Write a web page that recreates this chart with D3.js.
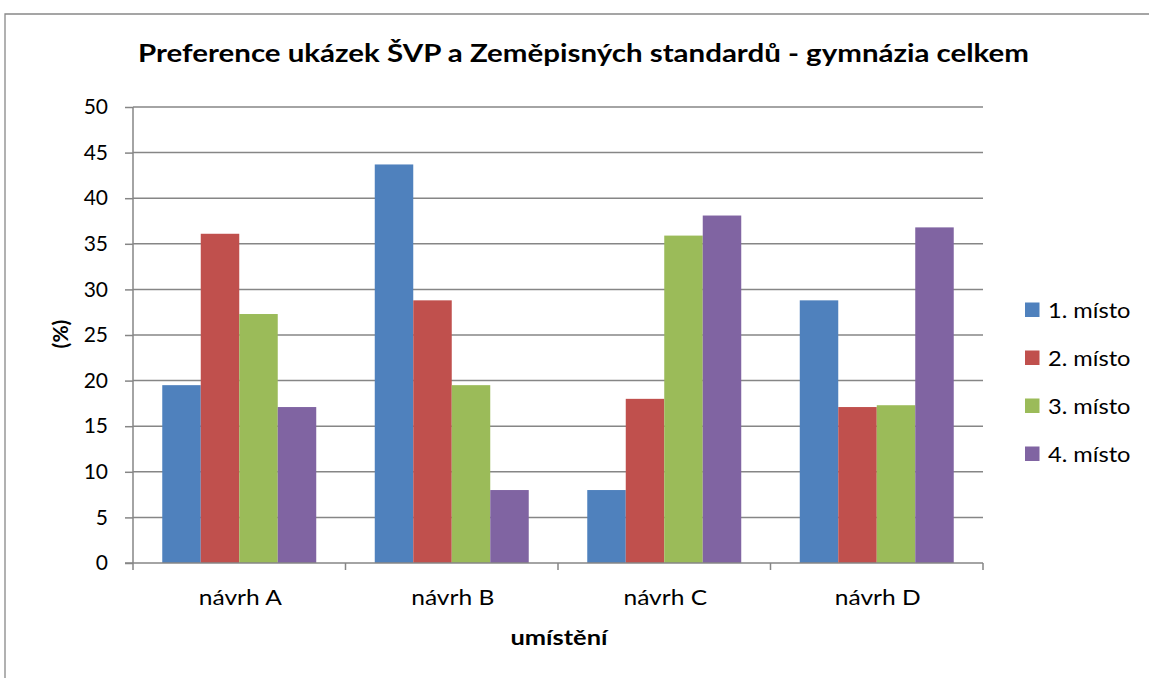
<!DOCTYPE html>
<html><head><meta charset="utf-8">
<script src="https://cdn.jsdelivr.net/npm/d3@7"></script>
<style>body{margin:0;background:#fff;} svg{display:block;}</style>
</head><body>
<script>
const categories = ["návrh A", "návrh B", "návrh C", "návrh D"];
const seriesNames = ["1. místo", "2. místo", "3. místo", "4. místo"];
const colors = ["#4F81BD", "#C0504D", "#9BBB59", "#8064A2"];
const misto1 = [19.5, 43.7, 8.0, 28.8];
const misto2 = [36.1, 28.8, 18.0, 17.1];
const misto3 = [27.3, 19.5, 35.9, 17.3];
const misto4 = [17.1, 8.0, 38.1, 36.8];
const yTicks = [0, 5, 10, 15, 20, 25, 30, 35, 40, 45, 50];
const title = "Preference ukázek ŠVP a Zeměpisných standardů - gymnázia celkem";
const xTitle = "umístění";
const yTitle = "(%)";

(function () {
const series = [misto1, misto2, misto3, misto4];
const W = 1149, H = 678;
const font = "Lato, 'Open Sans', sans-serif";
const svg = d3.select("body").append("svg").attr("width", W).attr("height", H);

// horizontally stretch a group of texts so that refIndex text gets target width
function stretch(sel, target, refIndex) {
  const nodes = sel.nodes();
  const k = target / nodes[refIndex || 0].getComputedTextLength();
  nodes.forEach(n => {
    const w = n.getComputedTextLength();
    d3.select(n).attr("textLength", w * k).attr("lengthAdjust", "spacingAndGlyphs");
  });
}

svg.append("path").attr("d", `M5,${H} V14 H${W}`).attr("fill", "none")
  .attr("stroke", "#888").attr("stroke-width", 1.3);

const pL = 133, pR = 983, pT = 107, pB = 563;
const x0 = d3.scaleBand().domain(categories).range([pL, pR]).paddingInner(0).paddingOuter(0);
const x1 = d3.scaleBand().domain(d3.range(4)).range([0, x0.bandwidth()]).paddingOuter(0.76).paddingInner(0);
const y = d3.scaleLinear().domain([0, 50]).range([pB, pT]);

svg.append("g").selectAll("line").data(yTicks.filter(d => d > 0)).join("line")
  .attr("x1", pL).attr("x2", pR).attr("y1", d => y(d)).attr("y2", d => y(d))
  .attr("stroke", "#868686").attr("stroke-width", 1.5);

const g = svg.append("g");
categories.forEach((c, ci) => {
  g.selectAll(null).data(series.map((s, si) => ({si, v: s[ci]}))).join("rect")
    .attr("x", d => x0(c) + x1(d.si)).attr("width", x1.bandwidth())
    .attr("y", d => y(d.v)).attr("height", d => y(0) - y(d.v))
    .attr("fill", d => colors[d.si]);
});

const yAxis = d3.axisLeft(y).tickValues(yTicks).tickSize(8).tickPadding(17);
const ya = svg.append("g").attr("transform", `translate(${pL},0)`).call(yAxis);
ya.select(".domain").attr("stroke", "#868686").attr("stroke-width", 1.5).attr("d", `M0,${pT}V${pB}`);
ya.selectAll(".tick line").attr("stroke", "#868686").attr("stroke-width", 1.5);
ya.selectAll("text").attr("font-family", font).attr("font-size", 21).attr("fill", "#000");

const xa = svg.append("g").attr("transform", `translate(0,${pB})`);
xa.append("line").attr("x1", pL - 8).attr("x2", pR).attr("y1", 0).attr("y2", 0)
  .attr("stroke", "#868686").attr("stroke-width", 1.5);
const bounds = categories.map(c => x0(c)).concat([pR]);
xa.selectAll(".xt").data(bounds).join("line").attr("class", "xt")
  .attr("x1", d => d).attr("x2", d => d).attr("y1", 0).attr("y2", 7)
  .attr("stroke", "#868686").attr("stroke-width", 1.5);
const xl = xa.selectAll(".xl").data(categories).join("text").attr("class", "xl")
  .attr("x", d => x0(d) + x0.bandwidth() / 2 + 1).attr("y", 42)
  .attr("text-anchor", "middle").attr("font-family", font).attr("font-size", 21).text(d => d);
stretch(xl, 83, 0);

const tt = svg.append("text").attr("x", 583.5).attr("y", 62).attr("text-anchor", "middle")
  .attr("font-family", font).attr("font-weight", "bold").attr("font-size", 25).text(title);
stretch(tt, 891, 0);
const xt = svg.append("text").attr("x", 559).attr("y", 645).attr("text-anchor", "middle")
  .attr("font-family", font).attr("font-weight", "bold").attr("font-size", 21).text(xTitle);
stretch(xt, 97, 0);
svg.append("text").attr("transform", "translate(68,334) rotate(-90)").attr("text-anchor", "middle")
  .attr("font-family", font).attr("font-weight", "bold").attr("font-size", 21).text(yTitle);

const lg = svg.append("g").selectAll("g").data(seriesNames).join("g")
  .attr("transform", (d, i) => `translate(1025,${318 + i * 48})`);
lg.append("rect").attr("x", 0).attr("y", -15.5).attr("width", 14.5).attr("height", 14.5).attr("fill", (d, i) => colors[i]);
const lt = lg.append("text").attr("x", 23).attr("y", 0).attr("font-family", font).attr("font-size", 21).text(d => d);
stretch(lt, 82.5, 0);
})();
</script>
</body></html>
